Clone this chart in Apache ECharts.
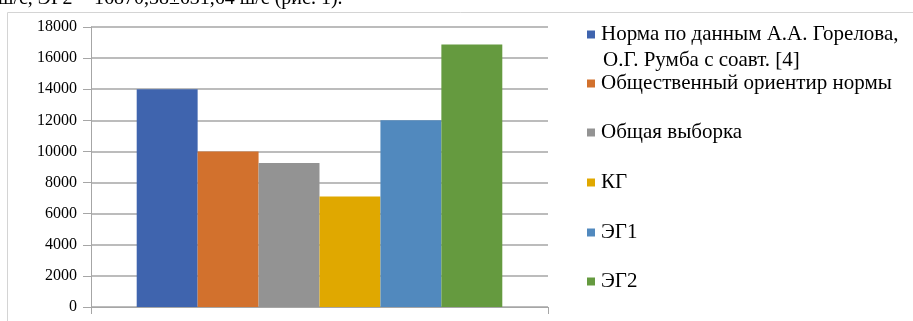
<!DOCTYPE html>
<html>
<head>
<meta charset="utf-8">
<script src="https://cdn.jsdelivr.net/npm/echarts@6/dist/echarts.min.js"></script>
<style>
  html, body { margin: 0; padding: 0; background: #fff; }
  #chart { width: 913px; height: 321px; }
</style>
</head>
<body>
<div id="chart"></div>
<script>
const seriesNames = [
  "Норма по данным А.А. Горелова,",
  "Общественный ориентир нормы",
  "Общая выборка",
  "КГ",
  "ЭГ1",
  "ЭГ2"
]
const legendSecondLine = "О.Г. Румба с соавт. [4]"
const seriesValues = [14000, 10000, 9250, 7100, 12000, 16870]
const seriesColors = ["#3f64ae", "#d2712d", "#939393", "#e0a800", "#5189be", "#659a3f"]
const legendTops = [24, 73, 122, 172, 222, 271]
const captionText = "ш/с, ЭГ2 = 16870,38±631,64 ш/с (рис. 1)."

const chart = echarts.init(document.getElementById("chart"))
const font = "Liberation Serif"

const legends = seriesNames.map((name, i) => ({
  data: [name],
  left: 587,
  top: legendTops[i],
  padding: 0,
  icon: "rect",
  itemWidth: 8,
  itemHeight: 8,
  itemGap: 0,
  selectedMode: false,
  textStyle: {
    fontFamily: font,
    fontSize: 21,
    color: "#000",
    padding: [0, 0, 0, 1],
  },
}))

chart.setOption({
  animation: false,
  legend: legends,
  grid: { left: 91, right: 365, top: 27, bottom: 14 },
  xAxis: {
    type: "category",
    data: [""],
    axisLine: { lineStyle: { color: "#a6a6a6", width: 1 } },
    axisTick: { show: true, length: 7, lineStyle: { color: "#a6a6a6" } },
    axisLabel: { show: false },
  },
  yAxis: {
    type: "value",
    min: 0,
    max: 18000,
    interval: 2000,
    axisLine: { show: true, lineStyle: { color: "#a6a6a6", width: 1 } },
    axisTick: { show: true, length: 8, lineStyle: { color: "#a6a6a6" } },
    splitLine: { lineStyle: { color: "#a6a6a6", width: 1.5 } },
    axisLabel: {
      fontFamily: font,
      fontSize: 16,
      color: "#000",
      margin: 14,
      formatter: (v) => String(v),
    },
  },
  series: seriesNames.map((name, i) => ({
    name,
    type: "bar",
    data: [seriesValues[i]],
    barGap: "0%",
    barCategoryGap: "20%",
    itemStyle: { color: seriesColors[i] },
  })),
  graphic: [
    {
      type: "text",
      left: -2,
      top: -11,
      style: { text: captionText, font: "20px " + font, fill: "#000" },
    },
    {
      type: "text",
      left: 603,
      top: 50,
      style: { text: legendSecondLine, font: "21px " + font, fill: "#000" },
    },
    {
      type: "polyline",
      shape: { points: [[7.5, 321], [7.5, 12.5], [913, 12.5]] },
      style: { stroke: "#d4d4d4", lineWidth: 1, fill: null },
    },
  ],
})
</script>
</body>
</html>
